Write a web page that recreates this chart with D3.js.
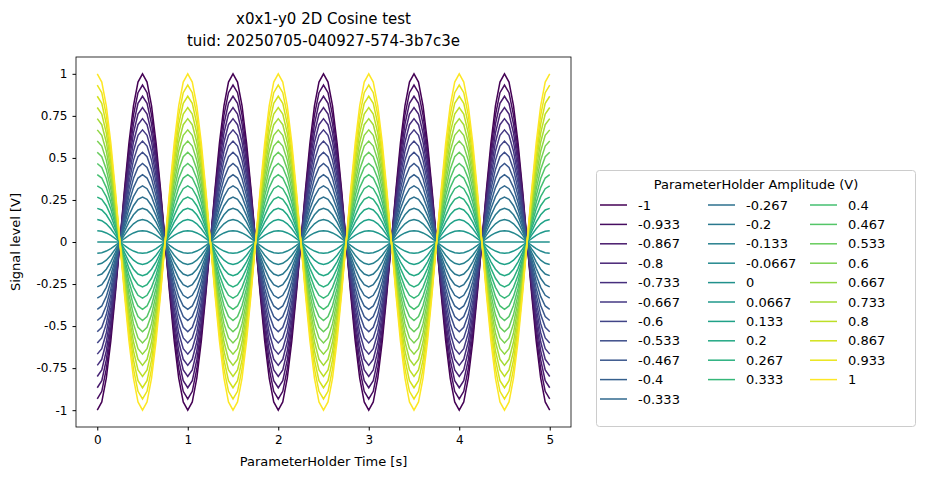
<!DOCTYPE html>
<html><head><meta charset="utf-8">
<script src="https://cdn.jsdelivr.net/npm/d3@7"></script>
<style>body{margin:0;background:#fff}text{font-family:"DejaVu Sans",sans-serif}</style>
</head><body><div id="container"></div>
<script>
/* DATA */
const amplitudes = d3.range(31).map(i => -1 + i / 15);
const ampLabels = ["-1","-0.933","-0.867","-0.8","-0.733","-0.667","-0.6","-0.533","-0.467","-0.4","-0.333",
  "-0.267","-0.2","-0.133","-0.0667","0","0.0667","0.133","0.2","0.267","0.333",
  "0.4","0.467","0.533","0.6","0.667","0.733","0.8","0.867","0.933","1"];
const times = d3.range(101).map(i => i * 0.05);
const xTicks = [0, 1, 2, 3, 4, 5];
const xTickLabels = ["0","1","2","3","4","5"];
const yTicks = [-1, -0.75, -0.5, -0.25, 0, 0.25, 0.5, 0.75, 1];
const yTickLabels = ["-1","-0.75","-0.5","-0.25","0","0.25","0.5","0.75","1"];

const width = 926, height = 480,
  plot = { left: 76, right: 571, top: 57, bottom: 427 };

const svg = d3.select("#container").append("svg").attr("width", width).attr("height", height);

const xScale = d3.scaleLinear().domain([-0.235, 5.235]).range([plot.left, plot.right]);
const yScale = d3.scaleLinear().domain([-1.1, 1.1]).range([plot.bottom, plot.top]);
const color = d3.scaleSequential(d3.interpolateViridis).domain([-1, 1]);

const line = d3.line().x(d => xScale(d.t)).y(d => yScale(d.v));

// LINES
svg.append("g").selectAll("path")
  .data(amplitudes)
  .join("path")
  .attr("d", a => line(times.map(t => ({ t, v: a * Math.cos(2 * Math.PI * t) }))))
  .attr("fill", "none")
  .attr("stroke", a => color(a))
  .attr("stroke-width", 1.5);

// AXES
const xAxis = d3.axisBottom(xScale).tickValues(xTicks).tickFormat((d, i) => xTickLabels[i]).tickSize(3.5).tickPadding(5);
const yAxis = d3.axisLeft(yScale).tickValues(yTicks).tickFormat((d, i) => yTickLabels[i]).tickSize(3.5).tickPadding(5);
svg.append("g").attr("transform", `translate(0,${plot.bottom})`).call(xAxis)
  .call(g => g.select(".domain").remove()).selectAll("text").style("font-size", "12px").attr("font-family", "DejaVu Sans");
svg.append("g").attr("transform", `translate(${plot.left},0)`).call(yAxis)
  .call(g => g.select(".domain").remove()).selectAll("text").style("font-size", "12px").attr("font-family", "DejaVu Sans");
svg.append("rect").attr("x", plot.left).attr("y", plot.top)
  .attr("width", plot.right - plot.left).attr("height", plot.bottom - plot.top)
  .attr("fill", "none").attr("stroke", "black").attr("stroke-width", 0.8);

// LABELS
svg.append("text").attr("x", (plot.left + plot.right) / 2).attr("y", 466).attr("text-anchor", "middle")
  .style("font-size", "13px").text("ParameterHolder Time [s]");
svg.append("text").attr("transform", `translate(20,${(plot.top + plot.bottom) / 2}) rotate(-90)`)
  .attr("text-anchor", "middle").style("font-size", "13px").text("Signal level [V]");
svg.append("text").attr("x", (plot.left + plot.right) / 2).attr("y", 24).attr("text-anchor", "middle")
  .style("font-size", "15px").text("x0x1-y0 2D Cosine test");
svg.append("text").attr("x", (plot.left + plot.right) / 2).attr("y", 46).attr("text-anchor", "middle")
  .style("font-size", "15px").text("tuid: 20250705-040927-574-3b7c3e");

// LEGEND
const legend = svg.append("g");
legend.append("rect").attr("x", 596.5).attr("y", 170.5).attr("width", 319).attr("height", 256).attr("rx", 3)
  .attr("fill", "white").attr("stroke", "#ccc");
legend.append("text").attr("x", 756).attr("y", 189).attr("text-anchor", "middle")
  .style("font-size", "13px").text("ParameterHolder Amplitude (V)");
const colX = [600, 708, 810];
const perCol = [11, 10, 10];
let idx = 0;
perCol.forEach((n, c) => {
  for (let r = 0; r < n; r++, idx++) {
    const y = 205 + r * 19.4;
    legend.append("line").attr("x1", colX[c]).attr("x2", colX[c] + 27).attr("y1", y).attr("y2", y)
      .attr("stroke", color(amplitudes[idx])).attr("stroke-width", 1.5);
    legend.append("text").attr("x", colX[c] + 38).attr("y", y + 4.5)
      .style("font-size", "13px").text(ampLabels[idx]);
  }
});
</script></body></html>
